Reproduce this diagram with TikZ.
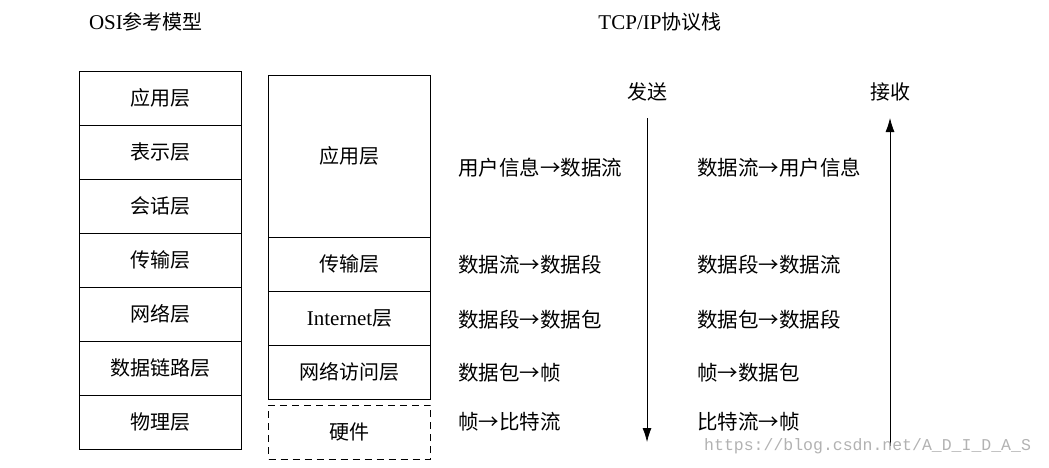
\documentclass[tikz,border=0pt]{standalone}
\usepackage{fontspec}
\setmainfont{Noto Sans CJK SC}
\newfontfamily\latn{Liberation Serif}
\newfontfamily\mono{Liberation Mono}
\usetikzlibrary{positioning,calc,arrows.meta}
\tikzset{
  layer/.style={draw,thick,minimum width=162pt,inner sep=0pt,outer sep=0pt,font=\fontsize{20}{24}\selectfont},
  flow/.style={anchor=west,inner sep=0pt,font=\fontsize{20.5}{24}\selectfont},
  head/.style={inner sep=0pt,font=\fontsize{20}{24}\selectfont}
}
\begin{document}
\begin{tikzpicture}[x=1pt,y=-1pt]
\useasboundingbox (0,0) rectangle (1049,467);
    \begin{scope} % OSI model
        \node[head] (osi) at (146,22) {{\latn\fontsize{21}{24}\selectfont OSI}参考模型};
        \foreach \n/\t [count=\i] in {app/应用层,pre/表示层,ses/会话层,tra/传输层,net/网络层,dat/数据链路层,phy/物理层}
            \node[layer,minimum height=54pt] (osi\n) at (160,{71+54*(\i-0.5)}) {\t};
    \end{scope}
    \begin{scope} % TCP/IP stack
        \node[head] (tcp) at (660,22) {{\latn\fontsize{21}{24}\selectfont TCP/IP}协议栈};
        \node[layer,minimum height=162pt] (tapp) at (349.5,156) {应用层};
        \node[layer,minimum height=54pt,below=0pt of tapp] (ttra) {传输层};
        \node[layer,minimum height=54pt,below=0pt of ttra] (tint) {{\latn\fontsize{21}{24}\selectfont Internet}层};
        \node[layer,minimum height=54pt,below=0pt of tint] (tnet) {网络访问层};
        \node[layer,dash pattern=on 7pt off 5pt,minimum height=54pt,below=6pt of tnet] (thw) {硬件};
    \end{scope}
    % Send / receive arrows
    \node[head] (send) at (647,92) {发送};
    \node[head] (recv) at (890,92) {接收};
    \coordinate (s1) at (647,118); \coordinate (s2) at (647,442);
    \coordinate (r1) at (890,446); \coordinate (r2) at (890,118);
    \draw[thick,-{Latex[length=14pt,width=9pt]}] (s1) -- (s2);
    \draw[thick,-{Latex[length=14pt,width=9pt]}] (r1) -- (r2);
    % Encapsulation steps
    \foreach \a/\b/\y [count=\i] in {用户信息→数据流/数据流→用户信息/168,数据流→数据段/数据段→数据流/265,数据段→数据包/数据包→数据段/320,数据包→帧/帧→数据包/373,帧→比特流/比特流→帧/422}{
        \node[flow] (snd\i) at (458,\y) {\a};
        \node[flow] (rcv\i) at (697,\y) {\b};
    }
    \node[anchor=west,inner sep=0pt,text=black!30,font=\mono\fontsize{16.5}{18}\selectfont] (wm) at (704,446) {https://blog.csdn.net/A\_D\_I\_D\_A\_S};
\end{tikzpicture}
\end{document}
